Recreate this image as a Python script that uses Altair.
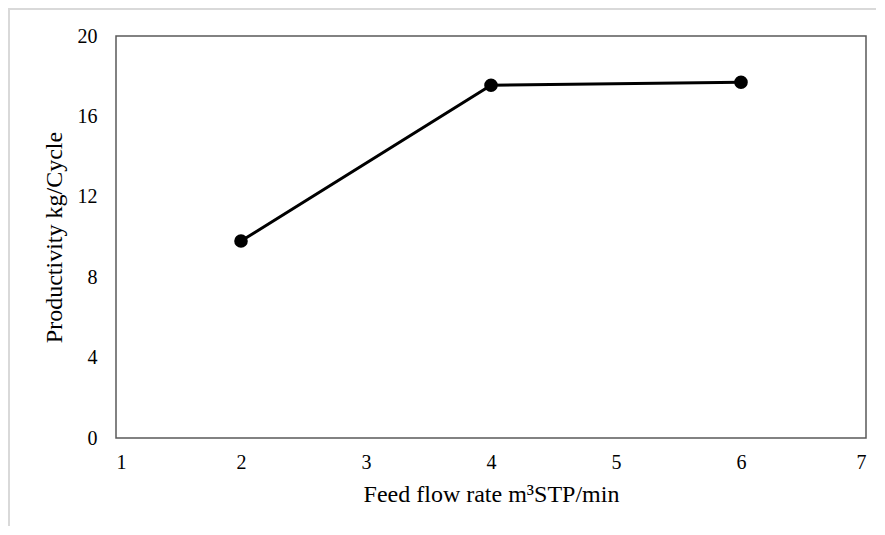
import altair as alt
import pandas as pd

feed_flow = [2, 4, 6]
productivity = [9.8, 17.55, 17.7]

df = pd.DataFrame({"feed": feed_flow, "prod": productivity})

FONT = "Liberation Serif"

x_enc = alt.X("feed:Q", scale=alt.Scale(domain=[1, 7], nice=False),
              axis=alt.Axis(values=[1, 2, 3, 4, 5, 6, 7], format="d",
                            title="Feed flow rate m³STP/min"))
y_enc = alt.Y("prod:Q", scale=alt.Scale(domain=[0, 20], nice=False),
              axis=alt.Axis(values=[0, 4, 8, 12, 16, 20], format="d",
                            title="Productivity kg/Cycle"))

line = alt.Chart(df).mark_line(color="black", strokeWidth=3).encode(x=x_enc, y=y_enc)
points = alt.Chart(df).mark_circle(color="black", size=185, opacity=1).encode(x="feed:Q", y="prod:Q")

outer = alt.Chart(df).mark_rect(fill=None, stroke="#d9d9d9", strokeWidth=2).encode(
    x=alt.value(-107), x2=alt.value(2000), y=alt.value(-27), y2=alt.value(700))

chart = alt.layer(outer, line, points).properties(
    width=750, height=402,
    background="white",
    autosize=alt.AutoSizeParams(type="none"),
    padding={"left": 108, "top": 28, "right": 10, "bottom": 88},
).configure_view(
    stroke="#595959", strokeWidth=1.5
).configure_axis(
    domain=False, grid=False, ticks=False,
    labelFont=FONT, labelFontSize=20, labelColor="black",
    titleFont=FONT, titleFontSize=24, titleColor="black", titleFontWeight="normal",
).configure_axisX(
    labelPadding=14, titlePadding=10
).configure_axisY(
    labelPadding=19, titlePadding=11
)

chart.save("out.html", embed_options={"renderer": "svg", "actions": False})
